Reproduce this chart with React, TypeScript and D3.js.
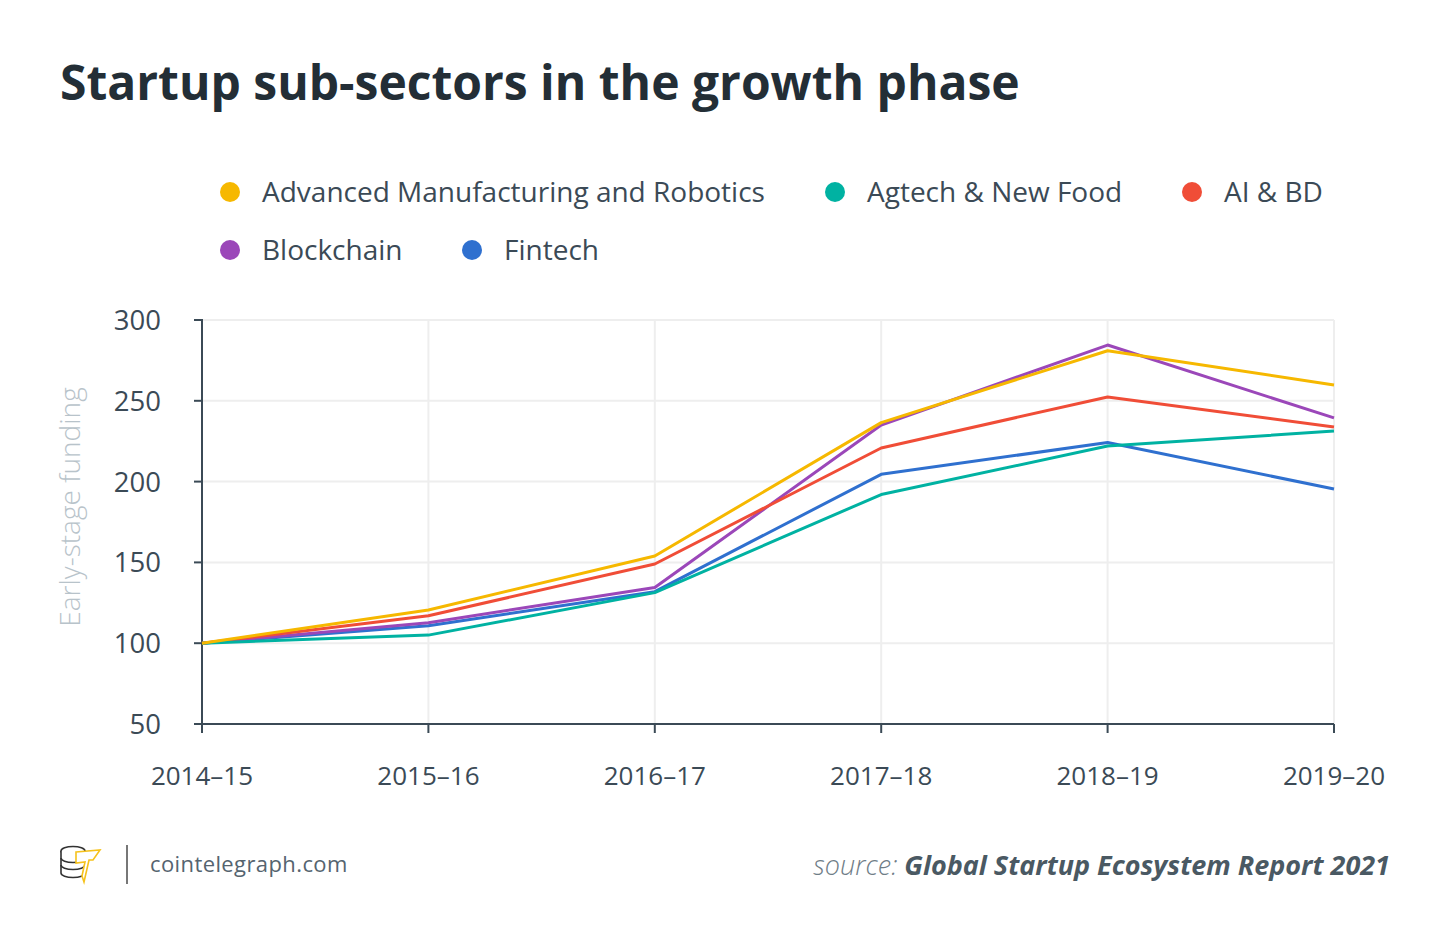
import React from "react";
import * as d3 from "d3";

const categories = ["2014–15", "2015–16", "2016–17", "2017–18", "2018–19", "2019–20"];
const seriesNames = ["Advanced Manufacturing and Robotics", "Agtech & New Food", "AI & BD", "Blockchain", "Fintech"];
const seriesColors = ["#f6b800", "#00b2a2", "#f04d37", "#9b47b9", "#2f70cf"];
const advManufacturing = [100, 120.5, 154, 236.5, 281, 259.8];
const agtech = [100, 105, 131.3, 192, 222, 231.3];
const aiBd = [100, 117, 149, 220.8, 252.4, 233.8];
const blockchain = [100, 112.7, 134.5, 235, 284.5, 239.4];
const fintech = [100, 110.8, 131.9, 204.5, 224.2, 195.4];
const seriesValues = [advManufacturing, agtech, aiBd, blockchain, fintech];
const yTicks = [50, 100, 150, 200, 250, 300];

const FONT = "'Open Sans', sans-serif";
const DARK = "#3b4a56";

export default function App() {
  const W = 1450, H = 945;
  const x = d3.scalePoint<string>().domain(categories).range([202, 1334]);
  const y = d3.scaleLinear().domain([50, 300]).range([724, 320]);
  const line = d3.line<number>().x((_, i) => x(categories[i])!).y((v) => y(v));

  const legendItems = [
    { i: 0, cx: 230, cy: 192 },
    { i: 1, cx: 835, cy: 192 },
    { i: 2, cx: 1192, cy: 192 },
    { i: 3, cx: 230, cy: 250 },
    { i: 4, cx: 472, cy: 250 },
  ];
  const drawOrder = [4, 3, 2, 1, 0];

  return (
    <svg width={W} height={H} style={{ position: "absolute", left: 0, top: 0, background: "#fff" }} fontFamily={FONT}>
      <rect width={W} height={H} fill="#fff" />
      <text x={60} y={100} fontSize={48} fontWeight={700} fill="#232e36">Startup sub-sectors in the growth phase</text>

      {legendItems.map((l) => (
        <g key={l.i}>
          <circle cx={l.cx} cy={l.cy} r={10} fill={seriesColors[l.i]} />
          <text x={l.cx + 32} y={l.cy + 10} fontSize={28} fill={DARK}>{seriesNames[l.i]}</text>
        </g>
      ))}

      {/* grid */}
      {yTicks.map((t) => (
        <line key={"gy" + t} x1={202} x2={1334} y1={y(t)} y2={y(t)} stroke="#eeeeee" strokeWidth={2} />
      ))}
      {categories.map((c) => (
        <line key={"gx" + c} x1={x(c)} x2={x(c)} y1={320} y2={724} stroke="#eeeeee" strokeWidth={2} />
      ))}

      {/* axes */}
      <line x1={202} x2={202} y1={319} y2={725} stroke={DARK} strokeWidth={2} />
      <line x1={202} x2={1334} y1={724} y2={724} stroke={DARK} strokeWidth={2} />
      {yTicks.map((t) => (
        <g key={"ty" + t}>
          <line x1={194} x2={202} y1={y(t)} y2={y(t)} stroke={DARK} strokeWidth={2} />
          <text x={161} y={y(t) + 10} textAnchor="end" fontSize={27.5} fill={DARK}>{t}</text>
        </g>
      ))}
      {categories.map((c) => (
        <g key={"tx" + c}>
          <line x1={x(c)} x2={x(c)} y1={724} y2={733} stroke={DARK} strokeWidth={2} />
          <text x={x(c)} y={785} textAnchor="middle" fontSize={26} fill={DARK}>{c}</text>
        </g>
      ))}
      <text transform={`translate(80,507) rotate(-90)`} textAnchor="middle" fontSize={28} fontWeight={300} fill="#b8c3ca">Early-stage funding</text>

      {drawOrder.map((i) => (
        <path key={"s" + i} d={line(seriesValues[i])!} fill="none" stroke={seriesColors[i]} strokeWidth={3} strokeLinejoin="round" />
      ))}

      {/* footer */}
      <g transform="translate(60,846)" fill="none" strokeWidth={1.6}>
        <ellipse cx={13} cy={5} rx={12} ry={4.5} stroke="#333" fill="#fff" />
        <path d="M1,5 v22 a12,4.5 0 0 0 24,0 v-22" stroke="#333" fill="#fff" />
        <path d="M1,12 a12,4.5 0 0 0 24,0 M1,19 a12,4.5 0 0 0 24,0" stroke="#333" />
        <path d="M16,6 L40,4 L33,14 L29,14 L24,36 L22,30 L25,16 L16,17 Z" stroke="#f6c21b" fill="#fff" />
      </g>
      <line x1={127} x2={127} y1={845} y2={884} stroke="#777" strokeWidth={2} />
      <text x={150} y={872} fontSize={22} fill="#55646f" letterSpacing={0.4}>cointelegraph.com</text>
      <text x={1390} y={875} textAnchor="end" fontSize={27} fontStyle="italic" fill="#4a5963">
        <tspan fontWeight={300} fill="#6f7d87">source: </tspan>
        <tspan fontWeight={700}>Global Startup Ecosystem Report 2021</tspan>
      </text>
    </svg>
  );
}
